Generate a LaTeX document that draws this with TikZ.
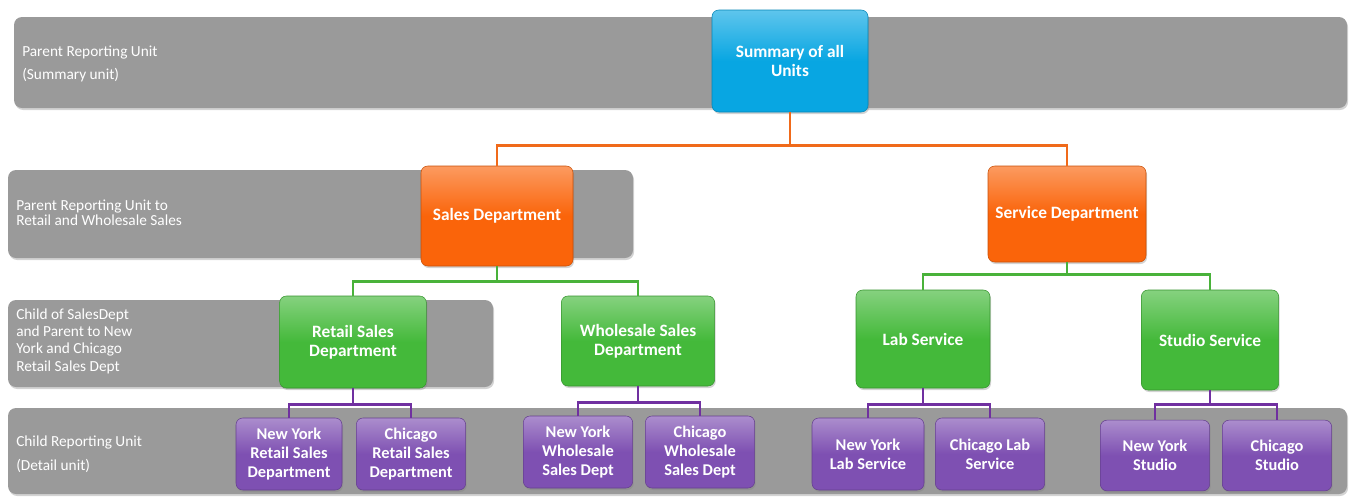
\documentclass[tikz,border=0pt]{standalone}
\usepackage{fontspec}
\setmainfont{Carlito}
\usetikzlibrary{shadows}
\definecolor{bandgray}{HTML}{9A9A9A}
\definecolor{unitblue}{HTML}{08A6E2}
\definecolor{unitorange}{HTML}{FA640A}
\definecolor{unitgreen}{HTML}{44B93A}
\definecolor{unitpurple}{HTML}{7E50B2}
\definecolor{lineorange}{HTML}{F06A1A}
\definecolor{linegreen}{HTML}{49B23A}
\definecolor{linepurple}{HTML}{7030A0}
\tikzset{
    band/.style={
        fill=bandgray,
        rounded corners=6pt,
        inner sep=0pt,
        drop shadow={opacity=0.35, shadow xshift=0.8pt, shadow yshift=-1.5pt}
    },
    bandtext/.style={
        anchor=west,
        align=left,
        text=white,
        inner sep=0pt,
        font=\fontsize{11.5}{11.25}\selectfont
    },
    unit/.style={
        rounded corners=5pt,
        draw=#1!80!black,
        line width=0.4pt,
        top color=#1!65!white,
        bottom color=#1,
        middle color=#1,
        text=white,
        align=center,
        inner sep=2pt,
        font=\fontsize{13}{14.5}\selectfont\bfseries,
        drop shadow={opacity=0.35, shadow xshift=0.8pt, shadow yshift=-1.5pt}
    },
    leaf/.style={
        unit=unitpurple,
        minimum width=82pt,
        minimum height=54pt,
        font=\fontsize{12.3}{14.5}\selectfont\bfseries
    },
    link/.style={line width=2.2pt, draw=#1}
}
\begin{document}
\begin{tikzpicture}[x=0.75pt,y=-0.75pt]
\useasboundingbox (0,0) rectangle (1354,497);

% bands
\node[band, minimum width=999.75pt, minimum height=68.25pt] (band1) at (680.5,62.5) {};
\node[band, minimum width=468.75pt, minimum height=66pt] (band2) at (320.5,214) {};
\node[band, minimum width=363.75pt, minimum height=65.25pt] (band3) at (250.5,343.5) {};
\node[band, minimum width=1004.25pt, minimum height=64.5pt] (band4) at (677.5,451) {};

\node[bandtext, font=\fontsize{11.5}{17.25}\selectfont] (text1) at (22,63.5) {Parent Reporting Unit\\(Summary unit)};
\node[bandtext] (text2) at (16,212.5) {Parent Reporting Unit to\\Retail and Wholesale Sales};
\node[bandtext, font=\fontsize{11.5}{13}\selectfont] (text3) at (16,341) {Child of SalesDept\\and Parent to New\\York and Chicago\\Retail Sales Dept};
\node[bandtext, font=\fontsize{11.5}{18}\selectfont] (text4) at (16,454.5) {Child Reporting Unit\\(Detail unit)};

% top
\node[unit=unitblue, minimum width=117pt, minimum height=76.5pt] (summary) at (790,61) {Summary of all\\Units};

% departments
\node[unit=unitorange, minimum width=114pt, minimum height=75pt] (sales) at (497,216) {Sales Department};
\node[unit=unitorange, minimum width=118.5pt, minimum height=72pt] (service) at (1067,214) {Service Department};

% sub departments
\node[unit=unitgreen, minimum width=110pt, minimum height=69pt] (retail) at (353,342) {Retail Sales\\Department};
\node[unit=unitgreen, minimum width=115pt, minimum height=67.5pt] (wholesale) at (638,341) {Wholesale Sales\\Department};
\node[unit=unitgreen, minimum width=100.5pt, minimum height=73.5pt] (lab) at (923,339) {Lab Service};
\node[unit=unitgreen, minimum width=103pt, minimum height=75pt] (studio) at (1210,340) {Studio Service};

% detail units
\node[leaf, minimum width=79.5pt] (nyretail) at (289,454) {New York\\Retail Sales\\Department};
\node[leaf] (chiretail) at (411,454) {Chicago\\Retail Sales\\Department};
\node[leaf] (nywholesale) at (578,452) {New York\\Wholesale\\Sales Dept};
\node[leaf] (chiwholesale) at (700,452) {Chicago\\Wholesale\\Sales Dept};
\node[leaf, minimum width=84pt] (nylab) at (868,454) {New York\\Lab Service};
\node[leaf] (chilab) at (990,454) {Chicago Lab\\Service};
\node[leaf, minimum height=53pt] (nystudio) at (1155,455.5) {New York\\Studio};
\node[leaf, minimum height=53pt] (chistudio) at (1277,455.5) {Chicago\\Studio};

% connectors
\draw[link=lineorange] (summary.south) -- ++(0,33) -| (sales.north);
\draw[link=lineorange] (summary.south) -- ++(0,33) -| (service.north);
\draw[link=linegreen] (sales.south) -- ++(0,15) -| (retail.north);
\draw[link=linegreen] (sales.south) -- ++(0,15) -| (wholesale.north);
\draw[link=linegreen] (service.south) -- ++(0,12) -| (lab.north);
\draw[link=linegreen] (service.south) -- ++(0,12) -| (studio.north);
\draw[link=linepurple] (retail.south) -- ++(0,16) -| (nyretail.north);
\draw[link=linepurple] (retail.south) -- ++(0,16) -| (chiretail.north);
\draw[link=linepurple] (wholesale.south) -- ++(0,16) -| (nywholesale.north);
\draw[link=linepurple] (wholesale.south) -- ++(0,16) -| (chiwholesale.north);
\draw[link=linepurple] (lab.south) -- ++(0,16) -| (nylab.north);
\draw[link=linepurple] (lab.south) -- ++(0,16) -| (chilab.north);
\draw[link=linepurple] (studio.south) -- ++(0,14) -| (nystudio.north);
\draw[link=linepurple] (studio.south) -- ++(0,14) -| (chistudio.north);
\end{tikzpicture}
\end{document}
